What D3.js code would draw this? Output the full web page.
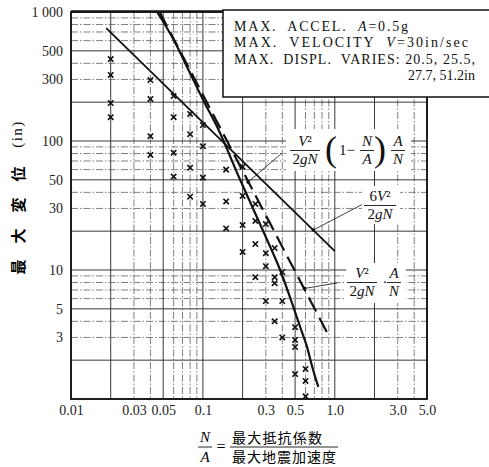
<!DOCTYPE html>
<html>
<head>
<meta charset="utf-8">
<script src="https://cdn.jsdelivr.net/npm/d3@7"></script>
<style>
  body { margin: 0; background: #fff; }
  svg { display: block; }
</style>
</head>
<body>
<div id="chart"></div>
<script>
// N/A of each test column, and the max displacements (in) read in that column
const ratios = [0.02, 0.04, 0.06, 0.08, 0.1, 0.15, 0.2, 0.25, 0.3, 0.35, 0.4, 0.5, 0.6]
const displacements = [
    [432, 325, 197, 153],
    [297, 212, 109, 78],
    [223, 153, 81, 53],
    [162, 113, 62, 37],
    [133, 91, 52, 32.5],
    [60, 34, 21],
    [63, 37.5, 22.3, 13.8],
    [32.5, 24, 15.9, 8.8],
    [22.7, 13.5, 10.7, 5.75],
    [14.8, 8.8, 7.9, 4.0],
    [9.65, 5.75, 3.0],
    [3.6, 2.87, 2.53, 1.56],
    [1.71, 1.38, 1.05]
]

// theory curves as [N/A, displacement]
const curveSixV = [[0.0185, 750], [1.0, 14]]                 // 6V²/2gN
const curveVA = [[0.047, 1000], [0.87, 3.3]]                 // V²/2gN · A/N (dashed)
const curveVAN = [[0.045, 1000], [0.06, 610], [0.08, 335], [0.1, 210], [0.13, 125],
    [0.19, 51], [0.3, 18], [0.385, 10], [0.475, 5.5], [0.547, 3.6], [0.618, 2.5],
    [0.675, 1.77], [0.75, 1.24]]                               // V²/2gN (1-N/A) A/N

// where the label leaders touch the curves
const leaderTips = [[0.22, 48], [0.687, 20.4], [0.59, 7.2]]

const xTickLabels = [0.01, 0.03, 0.05, 0.1, 0.3, 0.5, 1, 3, 5]
const yTickLabels = [1000, 500, 300, 100, 50, 30, 10, 5, 3]

const legendLines = [
    [['MAX.  ACCEL.  ', false], ['A', true], ['=0.5g', false]],
    [['MAX.  VELOCITY  ', false], ['V', true], ['=30in/sec', false]],
    [['MAX.  DISPL.  VARIES: 20.5, 25.5,', false]],
    [['27.7, 51.2in', false]]
]

const width = 489, height = 467
const margin = {top: 12, right: 62, bottom: 68, left: 71}
const serif = '"Liberation Serif", "Times New Roman", serif'
const cjk = '"Noto Sans CJK JP", sans-serif'

const svg = d3.select('#chart').append('svg')
    .attr('width', width)
    .attr('height', height)
    .style('background', '#fff')

const x = d3.scaleLog().domain([0.01, 5]).range([margin.left, width - margin.right])
const y = d3.scaleLog().domain([1, 1000]).range([height - margin.bottom, margin.top])

const isMajor = d => {
    const m = Math.round(d / Math.pow(10, Math.floor(Math.log10(d) + 1e-9)))
    return m === 1 || m === 2 || m === 5
}

// grid
const grid = svg.append('g').attr('class', 'grid')
grid.selectAll('line.gx').data(x.ticks()).join('line')
    .attr('class', 'gx')
    .attr('x1', d => x(d)).attr('x2', d => x(d))
    .attr('y1', y.range()[1]).attr('y2', y.range()[0])
    .attr('stroke', d => isMajor(d) ? '#222' : '#555')
    .attr('stroke-width', d => isMajor(d) ? 0.9 : 0.75)
    .attr('stroke-dasharray', d => isMajor(d) ? null : '7,2,1.5,2')
grid.selectAll('line.gy').data(y.ticks()).join('line')
    .attr('class', 'gy')
    .attr('y1', d => y(d)).attr('y2', d => y(d))
    .attr('x1', x.range()[0]).attr('x2', x.range()[1])
    .attr('stroke', d => isMajor(d) ? '#222' : '#555')
    .attr('stroke-width', d => isMajor(d) ? 0.9 : 0.75)
    .attr('stroke-dasharray', d => isMajor(d) ? null : '7,2,1.5,2')

// frame
svg.append('rect')
    .attr('x', x.range()[0]).attr('y', y.range()[1])
    .attr('width', x.range()[1] - x.range()[0])
    .attr('height', y.range()[0] - y.range()[1])
    .attr('fill', 'none').attr('stroke', '#111').attr('stroke-width', 1.8)
svg.append('line')
    .attr('x1', x.range()[0]).attr('x2', x.range()[1])
    .attr('y1', y.range()[1] - 1).attr('y2', y.range()[1] - 1)
    .attr('stroke', '#111').attr('stroke-width', 1.5)

// axes (labels only)
const xAxis = svg.append('g')
    .attr('transform', `translate(0,${y.range()[0]})`)
    .call(d3.axisBottom(x).tickValues(xTickLabels).tickSize(0).tickPadding(6)
        .tickFormat(d => d < 1 ? String(d) : d.toFixed(1)))
const yAxis = svg.append('g')
    .attr('transform', `translate(${x.range()[0]},0)`)
    .call(d3.axisLeft(y).tickValues(yTickLabels).tickSize(0).tickPadding(8)
        .tickFormat(d => d === 1000 ? '1 000' : String(d)))
;[xAxis, yAxis].forEach(a => {
    a.select('.domain').remove()
    a.selectAll('text').attr('font-family', serif).attr('font-size', 14).attr('fill', '#222')
})

// curves
const line = d3.line().x(d => x(d[0])).y(d => y(d[1]))
svg.append('path').datum(curveSixV)
    .attr('d', line).attr('fill', 'none').attr('stroke', '#111').attr('stroke-width', 1.8)
svg.append('path').datum(curveVA)
    .attr('d', line).attr('fill', 'none').attr('stroke', '#111').attr('stroke-width', 2.2)
    .attr('stroke-dasharray', '16,7')
svg.append('path').datum(curveVAN)
    .attr('d', line.curve(d3.curveMonotoneX)).attr('fill', 'none')
    .attr('stroke', '#111').attr('stroke-width', 2.2)

// data markers
const pts = ratios.flatMap((r, i) => displacements[i].map(v => [r, v]))
svg.append('g').selectAll('path').data(pts).join('path')
    .attr('d', d => {
        const cx = x(d[0]), cy = y(d[1]), s = 2.7
        return `M${cx - s},${cy - s}L${cx + s},${cy + s}M${cx - s},${cy + s}L${cx + s},${cy - s}`
    })
    .attr('stroke', '#111').attr('stroke-width', 1.6)

// legend box
const lg = svg.append('g')
lg.append('rect').attr('x', 223).attr('y', 10).attr('width', 280).attr('height', 87)
    .attr('fill', '#fff').attr('stroke', '#111').attr('stroke-width', 1.5)
const legendY = [31, 47, 64, 80]
const legendLen = [174, 234, 241, null]
legendLines.forEach((parts, i) => {
    const last = i === legendLines.length - 1
    const t = lg.append('text')
        .attr('x', last ? 475 : 234).attr('y', legendY[i])
        .attr('text-anchor', last ? 'end' : 'start')
        .attr('font-family', serif).attr('font-size', 14).attr('fill', '#111')
        .style('white-space', 'pre')
    if (legendLen[i]) t.attr('textLength', legendLen[i]).attr('lengthAdjust', 'spacing')
    parts.forEach(p => t.append('tspan').text(p[0]).attr('font-style', p[1] ? 'italic' : null))
})

// leaders
const leaderFrom = [[282, 153], [363, 204], [337, 283]]
leaderTips.forEach((tip, i) => {
    svg.append('line')
        .attr('x1', leaderFrom[i][0]).attr('y1', leaderFrom[i][1])
        .attr('x2', x(tip[0])).attr('y2', y(tip[1]))
        .attr('stroke', '#111').attr('stroke-width', 0.8)
    svg.append('circle').attr('cx', x(tip[0])).attr('cy', y(tip[1])).attr('r', 1.8).attr('fill', '#111')
})

// formula labels
const ann = svg.append('g').attr('font-family', serif).attr('font-size', 15).attr('fill', '#111')
function frac(g, cx, base, top, bottom, w) {
    const t1 = g.append('text').attr('x', cx).attr('y', base).attr('text-anchor', 'middle')
    top.forEach(p => t1.append('tspan').text(p[0]).attr('font-style', p[1] ? 'italic' : null))
    g.append('line').attr('x1', cx - w / 2).attr('x2', cx + w / 2)
        .attr('y1', base + 4.5).attr('y2', base + 4.5)
        .attr('stroke', '#111').attr('stroke-width', 0.9)
    const t2 = g.append('text').attr('x', cx).attr('y', base + 18).attr('text-anchor', 'middle')
    bottom.forEach(p => t2.append('tspan').text(p[0]).attr('font-style', p[1] ? 'italic' : null))
}
const V2 = [['V', true], ['²', false]]
const gN = [['2', false], ['gN', true]]
ann.append('rect').attr('x', 286).attr('y', 129).attr('width', 125).attr('height', 42).attr('fill', '#fff')
ann.append('rect').attr('x', 362).attr('y', 186).attr('width', 38).attr('height', 38).attr('fill', '#fff')
ann.append('rect').attr('x', 346).attr('y', 263).attr('width', 60).attr('height', 40).attr('fill', '#fff')

frac(ann, 305, 146, V2, gN, 30)
ann.append('text').attr('x', 331).attr('y', 161).attr('text-anchor', 'middle')
    .attr('font-size', 36).text('(')
ann.append('text').attr('x', 347).attr('y', 155).attr('text-anchor', 'middle').text('1−')
frac(ann, 367, 146, [['N', true]], [['A', true]], 14)
ann.append('text').attr('x', 380).attr('y', 161).attr('text-anchor', 'middle')
    .attr('font-size', 36).text(')')
frac(ann, 398, 146, [['A', true]], [['N', true]], 14)

frac(ann, 380, 201, [['6', false], ['V', true], ['²', false]], gN, 32)

frac(ann, 362, 278, V2, gN, 30)
ann.append('text').attr('x', 385).attr('y', 287).attr('text-anchor', 'middle').text('·')
frac(ann, 394, 278, [['A', true]], [['N', true]], 14)

// y axis title
const yTitleChars = ['最', '大', '変', '位']
yTitleChars.forEach((c, i) => {
    svg.append('text')
        .attr('transform', `translate(17,${267 - i * 31}) rotate(-90)`)
        .attr('text-anchor', 'middle').attr('dominant-baseline', 'central')
        .attr('font-family', cjk).attr('font-size', 15).attr('font-weight', 700).attr('fill', '#000')
        .text(c)
})
svg.append('text')
    .attr('transform', 'translate(17,134) rotate(-90)')
    .attr('text-anchor', 'middle').attr('dominant-baseline', 'central')
    .attr('font-family', serif).attr('font-size', 15).attr('fill', '#000')
    .attr('letter-spacing', 1.5)
    .text('(in)')

// x axis title
const xt = svg.append('g').attr('fill', '#000')
xt.append('text').attr('x', 205).attr('y', 442).attr('text-anchor', 'middle')
    .attr('font-family', serif).attr('font-style', 'italic').attr('font-size', 15).text('N')
xt.append('text').attr('x', 205).attr('y', 462).attr('text-anchor', 'middle')
    .attr('font-family', serif).attr('font-style', 'italic').attr('font-size', 15).text('A')
xt.append('line').attr('x1', 198).attr('x2', 212).attr('y1', 447).attr('y2', 447)
    .attr('stroke', '#111').attr('stroke-width', 0.9)
xt.append('text').attr('x', 221).attr('y', 452).attr('text-anchor', 'middle')
    .attr('font-family', serif).attr('font-size', 16).text('=')
xt.append('text').attr('x', 232).attr('y', 443)
    .attr('font-family', cjk).attr('font-size', 14).attr('letter-spacing', 1.2).text('最大抵抗係数')
xt.append('text').attr('x', 232).attr('y', 462)
    .attr('font-family', cjk).attr('font-size', 14).attr('letter-spacing', 1).text('最大地震加速度')
xt.append('line').attr('x1', 230).attr('x2', 338).attr('y1', 447).attr('y2', 447)
    .attr('stroke', '#111').attr('stroke-width', 0.9)
</script>
</body>
</html>
